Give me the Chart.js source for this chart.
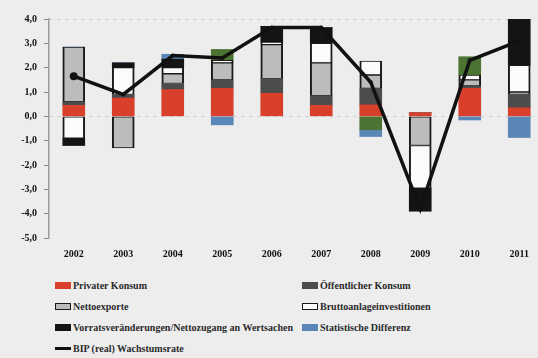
<!DOCTYPE html>
<html lang="de">
<head>
<meta charset="utf-8">
<title>Wachstumsbeiträge zum BIP</title>
<script src="https://cdn.jsdelivr.net/npm/chart.js@4.4.1/dist/chart.umd.min.js"></script>
<style>
  html, body { margin: 0; padding: 0; background: #ededed; overflow: hidden; width: 538px; height: 358px; }
  #wrap { position: absolute; left: 0; top: 0; width: 550px; height: 264px; }
  #legend { position: absolute; left: 55px; top: 275px; display: grid; grid-template-columns: 247px 236px; }
  .item { display: flex; align-items: center; height: 21px; white-space: nowrap;
          font: bold 10px "Liberation Serif", "DejaVu Serif", serif; color: #2a2a2a; }
  .sw { width: 16px; height: 7px; margin-right: 2px; box-sizing: border-box; flex: none; }
  .ln { width: 16px; height: 3px; margin-right: 2px; background: #111; flex: none; }
</style>
</head>
<body>
<div id="wrap"><canvas id="c"></canvas></div>
<div id="legend"></div>
<script>
// Beiträge zum realen BIP-Wachstum in Prozentpunkten
const jahre = ['2002', '2003', '2004', '2005', '2006', '2007', '2008', '2009', '2010', '2011'];
const privaterKonsum      = [0.45, 0.75, 1.10, 1.15, 0.95, 0.45, 0.47, 0.15, 1.15, 0.35];
const oeffentlicherKonsum = [0.15, 0.15, 0.25, 0.35, 0.60, 0.40, 0.68, 0.00, 0.10, 0.55];
const nettoexporte        = [2.25, -1.30, 0.40, 0.70, 1.40, 1.35, 0.55, -1.20, 0.25, 0.10];
const bruttoanlageinv     = [-0.90, 1.10, 0.25, 0.10, 0.10, 0.80, 0.57, -1.75, 0.20, 1.10];
const vorratsveraend      = [-0.30, 0.20, 0.35, 0.45, 0.65, 0.65, -0.55, -0.95, 0.75, 1.90];
const statDifferenz       = [0.00, 0.00, 0.20, -0.35, 0.00, 0.00, -0.28, 0.00, -0.15, -0.87];
const bipWachstum         = [1.65, 0.90, 2.50, 2.40, 3.65, 3.65, 1.40, -3.80, 2.30, 3.10];
const yTicks              = [4, 3, 2, 1, 0, -1, -2, -3, -4, -5];

// Füllfarben der Lagerveränderungen je Jahr
const vorratsFarben = ['#141414', '#141414', '#141414', '#4d7332', '#141414',
                       '#141414', '#4d7332', '#141414', '#4d7332', '#141414'];
// Punktgrößen der BIP-Linie
const bipPunkte = [4, 2, 2, 2, 2, 2, 2, 2, 2, 2];

const serif = { family: '"Liberation Serif", "DejaVu Serif", serif', size: 10, weight: 'bold' };
const randBox = { left: 2, right: 2, top: 1, bottom: 1 };

const datasets = [
  { type: 'bar', label: 'Privater Konsum', data: privaterKonsum, backgroundColor: '#d8402c', order: 1 },
  { type: 'bar', label: 'Öffentlicher Konsum', data: oeffentlicherKonsum, backgroundColor: '#4c4c4c', order: 1 },
  { type: 'bar', label: 'Nettoexporte', data: nettoexporte, backgroundColor: '#bcbcbc',
    borderColor: '#1a1a1a', borderWidth: randBox, borderSkipped: false, order: 1 },
  { type: 'bar', label: 'Bruttoanlageinvestitionen', data: bruttoanlageinv, backgroundColor: '#fbfbfb',
    borderColor: '#1a1a1a', borderWidth: randBox, borderSkipped: false, order: 1 },
  { type: 'bar', label: 'Vorratsveränderungen/Nettozugang an Wertsachen', data: vorratsveraend,
    backgroundColor: vorratsFarben, order: 1 },
  { type: 'bar', label: 'Statistische Differenz', data: statDifferenz, backgroundColor: '#5a86b8', order: 1 },
  { type: 'line', label: 'BIP (real) Wachstumsrate', data: bipWachstum, borderColor: '#111',
    backgroundColor: '#111', borderWidth: 3.5, pointRadius: bipPunkte, pointHoverRadius: bipPunkte,
    pointBorderWidth: 0, tension: 0, order: 0 }
];

const chart = new Chart(document.getElementById('c'), {
  type: 'bar',
  data: { labels: jahre, datasets },
  options: {
    animation: false,
    responsive: true,
    maintainAspectRatio: false,
    layout: { padding: { top: 19, right: 6, bottom: 2, left: 0 } },
    datasets: { bar: { barThickness: 22 } },
    plugins: { legend: { display: false }, tooltip: { enabled: false } },
    scales: {
      x: {
        stacked: true,
        grid: { display: false },
        border: { display: false },
        ticks: { padding: 2, color: '#111', font: serif, maxRotation: 0, autoSkip: false }
      },
      y: {
        stacked: true,
        min: Math.min(...yTicks),
        max: Math.max(...yTicks),
        afterBuildTicks: (s) => { s.ticks = yTicks.map(v => ({ value: v })); },
        afterFit: (s) => { s.width = 49; },
        ticks: {
          padding: 7, color: '#111', font: serif,
          callback: (v) => Number(v).toFixed(1).replace('.', ',')
        },
        grid: {
          color: (c) => (c.tick && (c.tick.value === 0 || c.tick.value === 4)) ? 'rgba(0,0,0,0.14)' : 'rgba(0,0,0,0)',
          tickColor: '#8c8c8c', tickLength: 5, lineWidth: 1
        },
        border: { display: true, color: '#9c9c9c', width: 1.5, dash: [3, 5] }
      }
    }
  }
});

// Legende in zwei Spalten, die Linie in der letzten Zeile
const legend = document.getElementById('legend');
datasets.forEach((ds) => {
  const item = document.createElement('div');
  item.className = 'item';
  const sw = document.createElement('span');
  if (ds.type === 'line') {
    sw.className = 'ln';
  } else {
    sw.className = 'sw';
    sw.style.background = Array.isArray(ds.backgroundColor) ? ds.backgroundColor[0] : ds.backgroundColor;
    if (ds.borderColor) sw.style.border = '1.5px solid ' + ds.borderColor;
  }
  item.appendChild(sw);
  item.appendChild(document.createTextNode(ds.label));
  legend.appendChild(item);
});
</script>
</body>
</html>
